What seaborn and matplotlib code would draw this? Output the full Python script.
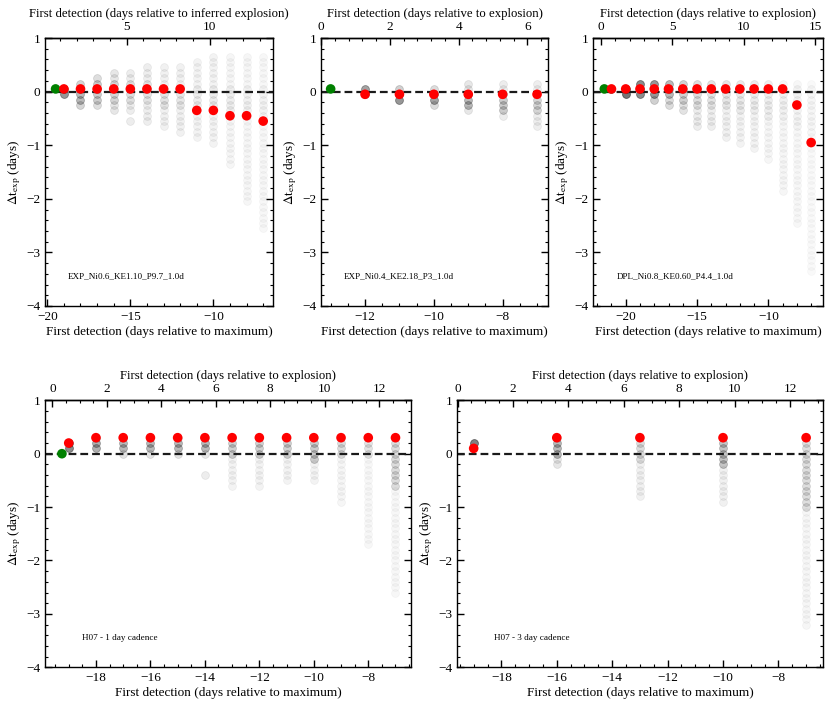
import numpy as np
import pandas as pd
import matplotlib
matplotlib.use("Agg")
import matplotlib.pyplot as plt
import seaborn as sns
from matplotlib.ticker import MultipleLocator, FixedLocator

# ---- panel 1: EXP_Ni0.6_KE1.10_P9.7_1.0d ----
p1_cols = [-19, -18, -17, -16, -15, -14, -13, -12, -11, -10, -9, -8, -7]
p1_hi = [0.05, 0.15, 0.25, 0.35, 0.35, 0.45, 0.45, 0.45, 0.55, 0.65, 0.65, 0.65, 0.65]
p1_lo = [-0.05, -0.25, -0.25, -0.35, -0.35, -0.55, -0.65, -0.75, -0.85, -0.95, -1.35, -2.05, -2.55]
p1_core_hi = [0.05, 0.05, 0.15, 0.15, 0.15, 0.15, 0.05, 0.05, 0.05, 0.05, 0.05, 0.05, 0.05]
p1_core_lo = [-0.05, -0.15, -0.15, -0.15, -0.15, -0.15, -0.25, -0.25, -0.25, -0.35, -0.45, -0.45, -0.55]
p1_a_base = [0.45, 0.18, 0.14, 0.10, 0.08, 0.07, 0.06, 0.06, 0.05, 0.05, 0.04, 0.035, 0.03]
p1_a_core = [0.45, 0.30, 0.22, 0.18, 0.14, 0.12, 0.12, 0.10, 0.08, 0.08, 0.07, 0.06, 0.05]
p1_extra_x = [-15]
p1_extra_y = [-0.55]
p1_red_x = [-19, -18, -17, -16, -15, -14, -13, -12, -11, -10, -9, -8, -7]
p1_red_y = [0.05, 0.05, 0.05, 0.05, 0.05, 0.05, 0.05, 0.05, -0.35, -0.35, -0.45, -0.45, -0.55]
p1_green = (-19.5, 0.05)

# ---- panel 2: EXP_Ni0.4_KE2.18_P3_1.0d ----
p2_cols = [-12, -11, -10, -9, -8, -7]
p2_hi = [0.05, 0.05, 0.05, 0.15, 0.15, 0.15]
p2_lo = [-0.05, -0.15, -0.25, -0.35, -0.45, -0.65]
p2_core_hi = [0.05, -0.05, -0.05, -0.05, -0.05, -0.15]
p2_core_lo = [-0.05, -0.15, -0.15, -0.25, -0.35, -0.35]
p2_a_base = [0.40, 0.20, 0.15, 0.10, 0.08, 0.07]
p2_a_core = [0.40, 0.45, 0.40, 0.30, 0.22, 0.18]
p2_red_x = [-12, -11, -10, -9, -8, -7]
p2_red_y = [-0.05, -0.05, -0.05, -0.05, -0.05, -0.05]
p2_green = (-13.0, 0.05)

# ---- panel 3: DPL_Ni0.8_KE0.60_P4.4_1.0d ----
p3_cols = [-21, -20, -19, -18, -17, -16, -15, -14, -13, -12, -11, -10, -9, -8, -7]
p3_hi = [0.05, 0.05, 0.15, 0.15, 0.15, 0.15, 0.15, 0.15, 0.15, 0.15, 0.15, 0.15, 0.15, 0.15, 0.15]
p3_lo = [0.05, -0.05, -0.05, -0.15, -0.25, -0.35, -0.65, -0.65, -0.85, -0.95, -1.05, -1.25, -1.85, -2.45, -3.35]
p3_core_hi = [0.05, 0.05, 0.15, 0.15, 0.15, 0.15, 0.15, 0.15, 0.15, 0.15, 0.15, 0.15, 0.05, 0.05, 0.05]
p3_core_lo = [0.05, -0.05, -0.05, -0.05, -0.05, -0.15, -0.25, -0.25, -0.25, -0.35, -0.35, -0.45, -0.45, -0.65, -0.75]
p3_a_base = [0.50, 0.50, 0.45, 0.20, 0.15, 0.12, 0.08, 0.07, 0.06, 0.05, 0.05, 0.04, 0.035, 0.03, 0.025]
p3_a_core = [0.50, 0.60, 0.50, 0.45, 0.30, 0.20, 0.14, 0.12, 0.10, 0.09, 0.08, 0.07, 0.06, 0.05, 0.04]
p3_red_x = [-21, -20, -19, -18, -17, -16, -15, -14, -13, -12, -11, -10, -9, -8, -7]
p3_red_y = [0.05] * 13 + [-0.25, -0.95]
p3_green = (-21.5, 0.05)

# ---- panel 4: H07 - 1 day cadence ----
p4_cols = [-19, -18, -17, -16, -15, -14, -13, -12, -11, -10, -9, -8, -7]
p4_hi = [0.2, 0.3, 0.3, 0.3, 0.3, 0.3, 0.3, 0.3, 0.3, 0.3, 0.3, 0.3, 0.3]
p4_lo = [0.1, 0.1, 0.0, 0.0, 0.0, 0.0, -0.6, -0.6, -0.5, -0.5, -0.9, -1.7, -2.6]
p4_core_hi = [0.2, 0.2, 0.2, 0.2, 0.2, 0.2, 0.2, 0.2, 0.2, 0.2, 0.2, 0.2, 0.2]
p4_core_lo = [0.1, 0.1, 0.1, 0.1, 0.1, 0.1, 0.0, 0.0, 0.0, -0.1, 0.0, 0.0, -0.6]
p4_a_base = [0.40, 0.20, 0.12, 0.12, 0.12, 0.10, 0.05, 0.05, 0.05, 0.05, 0.04, 0.03, 0.03]
p4_a_core = [0.50, 0.35, 0.30, 0.30, 0.30, 0.30, 0.20, 0.20, 0.20, 0.22, 0.15, 0.12, 0.15]
p4_extra_x = [-14]
p4_extra_y = [-0.4]
p4_red_x = [-19, -18, -17, -16, -15, -14, -13, -12, -11, -10, -9, -8, -7]
p4_red_y = [0.2] + [0.3] * 12
p4_green = (-19.25, 0.0)

# ---- panel 5: H07 - 3 day cadence ----
p5_cols = [-19, -16, -13, -10, -7]
p5_hi = [0.2, 0.3, 0.3, 0.3, 0.3]
p5_lo = [0.2, -0.2, -0.8, -0.9, -3.2]
p5_core_hi = [0.2, 0.2, 0.2, 0.2, 0.2]
p5_core_lo = [0.2, 0.0, -0.1, -0.2, -1.0]
p5_a_base = [0.55, 0.10, 0.06, 0.06, 0.035]
p5_a_core = [0.55, 0.30, 0.15, 0.25, 0.14]
p5_red_x = [-19, -16, -13, -10, -7]
p5_red_y = [0.1, 0.3, 0.3, 0.3, 0.3]

panel_labels = ["EXP_Ni0.6_KE1.10_P9.7_1.0d", "EXP_Ni0.4_KE2.18_P3_1.0d",
                "DPL_Ni0.8_KE0.60_P4.4_1.0d", "H07 - 1 day cadence", "H07 - 3 day cadence"]
top_titles = ["First detection (days relative to inferred explosion)",
              "First detection (days relative to explosion)",
              "First detection (days relative to explosion)",
              "First detection (days relative to explosion)",
              "First detection (days relative to explosion)"]


def grey_frame(cols, hi, lo, core_hi, core_lo, a_base, a_core):
    rows = []
    for x, h, l, ch, cl, ab, ac in zip(cols, hi, lo, core_hi, core_lo, a_base, a_core):
        n = int(round((h - l) / 0.1)) + 1
        for k in range(n):
            y = round(h - 0.1 * k, 2)
            a = ac if (cl - 1e-6 <= y <= ch + 1e-6) else ab
            rows.append((x, y, a))
    return pd.DataFrame(rows, columns=["x", "y", "alpha"])


sns.set_theme(style="ticks")
plt.rcParams["font.family"] = ["Liberation Serif", "DejaVu Serif"]
plt.rcParams.update({
    "mathtext.fontset": "stix",
    "axes.edgecolor": "black",
    "axes.linewidth": 1.0,
    "xtick.color": "black",
    "ytick.color": "black",
    "axes.labelcolor": "black",
    "text.color": "black",
    "axes.unicode_minus": True,
})

fig = plt.figure(figsize=(8.31, 7.08), dpi=100)

panels = [
    dict(rect=[0.0545, 0.5678, 0.2744, 0.3785], xlim=(-20.12, -6.39), off=20.22,
         grey=grey_frame(p1_cols, p1_hi, p1_lo, p1_core_hi, p1_core_lo, p1_a_base, p1_a_core),
         extra=(p1_extra_x, p1_extra_y, 0.08), red=(p1_red_x, p1_red_y), green=p1_green,
         bmaj=5, bmin=1, tticks=[5, 10], tmin=1),
    dict(rect=[0.3863, 0.5678, 0.2732, 0.3785], xlim=(-13.28, -6.68), off=13.28,
         grey=grey_frame(p2_cols, p2_hi, p2_lo, p2_core_hi, p2_core_lo, p2_a_base, p2_a_core),
         extra=None, red=(p2_red_x, p2_red_y), green=p2_green,
         bmaj=2, bmin=0.5, tticks=[0, 2, 4, 6], tmin=0.4),
    dict(rect=[0.7140, 0.5678, 0.2760, 0.3785], xlim=(-22.27, -6.19), off=21.73,
         grey=grey_frame(p3_cols, p3_hi, p3_lo, p3_core_hi, p3_core_lo, p3_a_base, p3_a_core),
         extra=None, red=(p3_red_x, p3_red_y), green=p3_green,
         bmaj=5, bmin=1, tticks=[0, 5, 10, 15], tmin=1),
    dict(rect=[0.0542, 0.0575, 0.4404, 0.3771], xlim=(-19.87, -6.43), off=19.60,
         grey=grey_frame(p4_cols, p4_hi, p4_lo, p4_core_hi, p4_core_lo, p4_a_base, p4_a_core),
         extra=(p4_extra_x, p4_extra_y, 0.08), red=(p4_red_x, p4_red_y), green=p4_green,
         bmaj=2, bmin=0.5, tticks=list(range(0, 13, 2)), tmin=0.5),
    dict(rect=[0.5500, 0.0575, 0.4404, 0.3771], xlim=(-19.60, -6.39), off=19.58,
         grey=grey_frame(p5_cols, p5_hi, p5_lo, p5_core_hi, p5_core_lo, p5_a_base, p5_a_core),
         extra=None, red=(p5_red_x, p5_red_y), green=None,
         bmaj=2, bmin=0.5, tticks=list(range(0, 13, 2)), tmin=0.5),
]

fs = 9.5
for i, p in enumerate(panels):
    ax = fig.add_axes(p["rect"])

    # grey cloud of simulated first-detection offsets
    for a, g in p["grey"].groupby("alpha"):
        sns.scatterplot(data=g, x="x", y="y", color="k", alpha=a, s=32,
                        edgecolor="k", linewidth=0.6, legend=False, ax=ax, zorder=1)
    if p["extra"] is not None:
        ex, ey, ea = p["extra"]
        sns.scatterplot(x=ex, y=ey, color="k", alpha=ea, s=32, edgecolor="k",
                        linewidth=0.6, legend=False, ax=ax, zorder=1)

    ax.axhline(0, color="k", ls="--", lw=1.6, dashes=(3.5, 1.8), zorder=2)

    rx, ry = p["red"]
    sns.scatterplot(x=rx, y=ry, color="red", s=48, edgecolor="none", legend=False, ax=ax, zorder=4)
    if p["green"] is not None:
        sns.scatterplot(x=[p["green"][0]], y=[p["green"][1]], color="green", s=48,
                        edgecolor="none", legend=False, ax=ax, zorder=3)

    ax.set_xlim(*p["xlim"])
    ax.set_ylim(-4, 1)
    ax.xaxis.set_major_locator(MultipleLocator(p["bmaj"]))
    ax.xaxis.set_minor_locator(MultipleLocator(p["bmin"]))
    ax.yaxis.set_major_locator(MultipleLocator(1))
    ax.yaxis.set_minor_locator(MultipleLocator(0.2))
    ax.tick_params(which="both", direction="in", right=True, top=False, labelsize=fs)
    ax.tick_params(which="major", length=5, width=1)
    ax.tick_params(which="minor", length=2.5, width=0.8)
    ax.set_xlabel("First detection (days relative to maximum)", fontsize=fs, labelpad=2)
    ax.set_ylabel(r"$\Delta$t$_{\rm exp}$ (days)", fontsize=fs, labelpad=2)
    for s in ax.spines.values():
        s.set_linewidth(1.0)

    off = p["off"]
    sec = ax.secondary_xaxis("top", functions=(lambda x, o=off: x + o, lambda x, o=off: x - o))
    sec.xaxis.set_major_locator(FixedLocator(p["tticks"]))
    sec.xaxis.set_minor_locator(MultipleLocator(p["tmin"]))
    sec.tick_params(which="both", direction="in", labelsize=fs)
    sec.tick_params(which="major", length=5, width=1)
    sec.tick_params(which="minor", length=2.5, width=0.8)
    sec.set_xlabel(top_titles[i], fontsize=9.2, labelpad=3)

    ax.text(0.1, 0.11, panel_labels[i], transform=ax.transAxes, fontsize=6.6, va="center")

fig.savefig("out.png", dpi=100)
plt.close(fig)
